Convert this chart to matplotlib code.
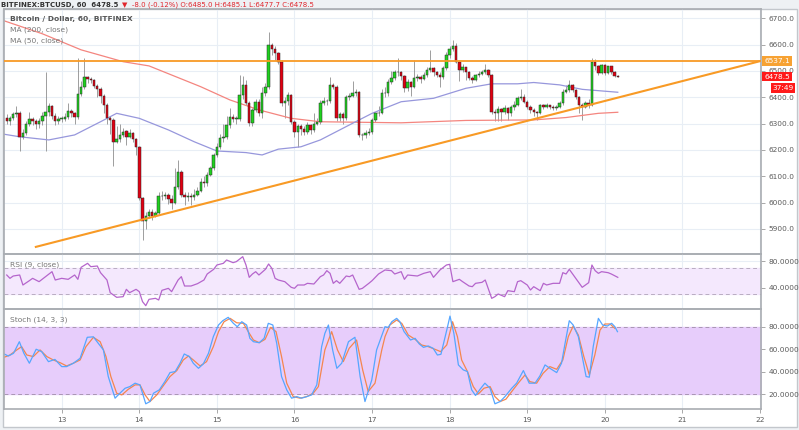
import numpy as np
import matplotlib
matplotlib.use('Agg')
import matplotlib.pyplot as plt
from matplotlib.patches import Rectangle

# hourly BTC/USD candles, hour 0 = day 13 00:00, first candle at hour -17
first_open = 6320
closes = [
    6310, 6320, 6335, 6340, 6250, 6265, 6300, 6318, 6310, 6300,
    6310, 6330, 6345, 6365, 6330, 6310, 6318, 6318, 6325, 6346,
    6340, 6325, 6412, 6440, 6475, 6468, 6465, 6442, 6432, 6405,
    6370, 6322, 6312, 6232, 6240, 6256, 6270, 6250, 6266, 6240,
    6212, 6017, 5930, 5950, 5965, 5950, 5960, 6025, 6025, 6030,
    6012, 6000, 6060, 6118, 6030, 6022, 6025, 6020, 6030, 6045,
    6080, 6075, 6105, 6130, 6180, 6212, 6244, 6250, 6295, 6326,
    6318, 6318, 6409, 6447, 6377, 6301, 6352, 6383, 6339, 6415,
    6440, 6600, 6585, 6567, 6535, 6377, 6385, 6409, 6307, 6269,
    6290, 6280, 6270, 6295, 6275, 6300, 6305, 6377, 6385, 6385,
    6447, 6440, 6320, 6335, 6320, 6402, 6405, 6415, 6420, 6257,
    6255, 6265, 6270, 6314, 6339, 6341, 6415, 6415, 6459, 6472,
    6497, 6495, 6480, 6434, 6459, 6440, 6472, 6475, 6470, 6485,
    6504, 6510, 6497, 6485, 6478, 6510, 6561, 6583, 6596, 6535,
    6504, 6515, 6497, 6472, 6465, 6484, 6490, 6497, 6504,
    6484, 6343, 6340, 6356, 6343, 6360, 6340, 6364, 6370, 6396,
    6402, 6383, 6364, 6352, 6343, 6340, 6370, 6364, 6370, 6364, 6360,
    6364, 6377, 6421, 6427, 6447, 6427, 6402, 6371, 6364, 6377,
    6371, 6533, 6517, 6491, 6523, 6491, 6517, 6495, 6482, 6478.5,
]
highs = [
    6335, 6330, 6345, 6365, 6348, 6280, 6310, 6345, 6325, 6318,
    6322, 6345, 6497, 6378, 6372, 6340, 6330, 6330, 6340, 6378,
    6355, 6345, 6548, 6462, 6548, 6482, 6478, 6470, 6450, 6440,
    6412, 6380, 6330, 6320, 6290, 6300, 6285, 6275, 6280, 6270,
    6245, 6215, 6020, 5965, 5975, 5975, 5970, 6040, 6045, 6040,
    6035, 6030, 6130, 6160, 6125, 6040, 6040, 6035, 6050, 6060,
    6095, 6100, 6115, 6140, 6190, 6225, 6260, 6300, 6330, 6360,
    6335, 6330, 6485, 6480, 6465, 6385, 6360, 6395, 6395, 6440,
    6455, 6649, 6605, 6595, 6570, 6540, 6400, 6420, 6412, 6315,
    6300, 6298, 6290, 6305, 6300, 6340, 6320, 6390, 6400, 6395,
    6478, 6455, 6445, 6345, 6345, 6410, 6415, 6460, 6430, 6425,
    6265, 6275, 6285, 6320, 6345, 6365, 6430, 6440, 6470, 6500,
    6505, 6550, 6500, 6485, 6470, 6462, 6540, 6490, 6485, 6495,
    6515, 6580, 6515, 6500, 6495, 6520, 6570, 6595, 6618, 6605,
    6540, 6525, 6512, 6500, 6480, 6490, 6500, 6505, 6525,
    6508, 6490, 6355, 6365, 6360, 6370, 6362, 6372, 6385, 6405,
    6430, 6412, 6388, 6370, 6358, 6348, 6375, 6375, 6380, 6372, 6370,
    6372, 6385, 6430, 6445, 6465, 6450, 6430, 6405, 6378, 6385,
    6392, 6548, 6545, 6522, 6528, 6525, 6520, 6520, 6498, 6486,
]
lows = [
    6300, 6295, 6312, 6325, 6195, 6240, 6255, 6290, 6295, 6280,
    6285, 6295, 6195, 6330, 6318, 6296, 6300, 6305, 6310, 6318,
    6325, 6300, 6318, 6405, 6430, 6455, 6455, 6435, 6400, 6380,
    6340, 6300, 6260, 6140, 6225, 6232, 6250, 6220, 6245, 6230,
    6180, 6010, 5858, 5900, 5940, 5935, 5945, 5955, 6010, 6015,
    5995, 5975, 5995, 6050, 6020, 5990, 6005, 5990, 6010, 6025,
    6040, 6060, 6065, 6100, 6125, 6175, 6205, 6230, 6240, 6285,
    6305, 6300, 6310, 6395, 6370, 6290, 6290, 6345, 6330, 6320,
    6405, 6430, 6560, 6540, 6525, 6365, 6320, 6370, 6300, 6250,
    6210, 6255, 6255, 6260, 6262, 6270, 6295, 6300, 6370, 6372,
    6380, 6430, 6310, 6310, 6300, 6315, 6390, 6400, 6405, 6250,
    6238, 6245, 6255, 6262, 6305, 6330, 6335, 6400, 6405, 6450,
    6465, 6480, 6465, 6420, 6425, 6405, 6435, 6462, 6455, 6465,
    6475, 6495, 6480, 6475, 6440, 6470, 6505, 6550, 6575, 6530,
    6460, 6495, 6465, 6465, 6455, 6460, 6478, 6485, 6490,
    6478, 6335, 6310, 6310, 6310, 6335, 6315, 6330, 6350, 6365,
    6390, 6378, 6355, 6340, 6330, 6314, 6335, 6355, 6360, 6355, 6350,
    6352, 6358, 6370, 6415, 6420, 6420, 6395, 6340, 6314, 6358,
    6360, 6365, 6505, 6485, 6488, 6485, 6488, 6490, 6478, 6475,
]

ma200_h = [-18, -6, 6, 19, 27, 43, 52, 61, 71, 80, 105, 125, 146, 156, 166, 172]
ma200 = [6691, 6641, 6580, 6535, 6519, 6440, 6390, 6352, 6320, 6307, 6303, 6312, 6314, 6323, 6339, 6343]
ma50_h = [-18, -13, -4, 4, 12, 17, 24, 33, 41, 48, 57, 62, 67, 74, 80, 89, 96, 105, 115, 125, 133, 141, 146, 154, 161, 172]
ma50 = [6260, 6250, 6238, 6257, 6307, 6339, 6320, 6276, 6231, 6196, 6190, 6181, 6203, 6212, 6238, 6295,
        6339, 6383, 6396, 6434, 6451, 6451, 6456, 6447, 6430, 6419]

# horizontal resistance and rising trendline
resist = 6537.1
trend_h = [-8, 216]
trend_p = [5832, 6537]

rsi_h = [-17, -16, -15, -13, -12, -10, -9, -7, -5, -3, -2, 0, 2, 4, 5, 6, 8, 9, 11, 12,
         14, 15, 17, 19, 20, 21, 23, 24, 25, 26, 27, 29, 30, 31, 33, 34, 36, 37, 38, 40,
         42, 44, 45, 47, 48, 50, 51, 53, 54, 56, 57, 58, 59, 60, 61, 63, 64, 65, 66, 67,
         69, 71, 72, 73, 75, 76, 78, 80, 81, 82, 83, 84, 85, 86, 88, 89, 90, 92, 93, 95,
         96, 98, 100, 102, 103, 105, 106, 107, 110, 112, 114, 115, 117, 119, 120,
         121, 123, 124, 126, 127, 128, 130, 131, 133, 134, 135, 137, 138, 140, 141, 142,
         144, 145, 146, 148, 149, 150, 152, 154, 155, 156, 157, 159, 160, 161, 163, 164,
         165, 166, 167, 169, 170, 172]
rsi = [59, 54, 57.5, 59, 44, 50.5, 54, 49, 56.5, 64, 51.5, 54, 52.5, 59, 52.5, 70.5, 76.5, 71.5, 72.5, 62.5,
       51.5, 32.5, 25.5, 26.5, 37.5, 32.5, 37.5, 34, 19, 13, 22.5, 24, 21.5, 36, 39, 34, 51.5, 56.5, 42.5, 42.5,
       46, 51.5, 60.5, 67.5, 74, 76.5, 81.5, 77.5, 79, 86.5, 74, 55.5, 60.5, 64, 59, 67.5, 75.5, 69, 54, 51.5,
       49, 40.5, 39, 44, 44, 46.5, 45.5, 56.5, 59, 65.5, 61.5, 46.5, 50.5, 46.5, 57.5, 56.5, 59, 37.5, 39, 46.5,
       50.5, 60.5, 66.5, 65.5, 60.5, 64, 52.5, 59, 57.5, 61.5, 64, 55.5, 66.5, 74, 75,
       49, 52.5, 49, 42.5, 41.5, 46.5, 48, 51.5, 24, 26.5, 30.5, 26.5, 35.5, 34, 49, 50.5,
       44, 36.5, 41.5, 35.5, 46.5, 44, 46.5, 46.5, 62.5, 60.5, 67.5, 54, 47.5, 40.5, 47.5, 74,
       65.5, 61.5, 64, 62.5, 60.5, 55.5]

stk_h = [-17.8, -16.5, -14.9, -13.1, -11.7, -10.0, -7.9, -6.2, -4.1, -2.1, 0.0, 1.5, 3.6, 5.7, 7.9, 9.8,
         11.3, 12.9, 14.4, 16.5, 18.0, 19.6, 21.1, 22.7, 24.2, 26.0, 27.3, 28.4, 30.2, 31.9, 33.5, 35.1,
         36.6, 37.9, 39.5, 40.7, 42.3, 43.8, 45.4, 46.9, 48.5, 49.8, 51.5, 53.1, 54.3, 55.7, 57.2, 58.2,
         59.3, 61.1, 62.6, 63.9, 65.3, 66.5, 68.0, 69.6, 71.1, 72.7, 74.2, 75.8, 77.3, 78.9, 80.4, 81.4,
         82.5, 83.8, 85.1, 86.6, 88.7, 90.7, 92.3, 93.8, 95.9, 97.4, 100.0, 101.0, 102.1, 103.6, 104.6,
         105.9, 107.9, 109.3, 110.6, 111.9, 113.4, 114.9, 116.2, 117.3, 119.1, 120.1, 121.3, 122.7, 124.2,
         125.5, 126.8, 128.0, 129.4, 130.9, 132.5, 134.0, 135.6, 137.1, 139.2, 140.7, 142.8, 144.6, 146.4,
         147.9, 149.5, 151.0, 153.1, 154.6, 155.7, 157.0, 158.2, 159.8, 161.1, 162.2, 163.2, 164.4, 166.0,
         167.3, 168.8, 170.1, 171.1, 171.9]
stk_k = [55.8, 54.0, 56.4, 66.7, 56.4, 47.6, 60.0, 57.9, 49.0, 51.0, 44.6, 44.6, 47.6, 52.0, 70.6, 71.0,
         65.3, 59.4, 35.8, 16.6, 21.0, 25.4, 26.9, 29.9, 28.4, 11.6, 13.6, 21.0, 24.0, 31.3, 39.3, 40.2,
         47.6, 55.8, 53.5, 47.6, 43.1, 47.0, 56.4, 71.2, 81.5, 85.3, 88.3, 83.0, 80.0, 84.4, 81.5, 69.7,
         66.7, 65.8, 69.7, 83.0, 81.5, 65.3, 35.8, 24.0, 16.6, 18.0, 16.6, 18.0, 19.5, 28.4, 62.3, 74.1,
         81.5, 59.4, 43.1, 47.6, 66.7, 70.6, 35.8, 13.6, 32.7, 59.4, 80.0, 79.4, 84.4, 87.4, 84.4,
         75.6, 68.2, 69.7, 64.7, 61.7, 62.9, 60.8, 54.9, 55.5, 77.0, 89.4, 74.1, 46.1, 41.7,
         40.2, 24.0, 19.0, 24.5, 29.9, 25.4, 11.6, 13.6, 18.0, 25.4, 29.9, 41.1, 29.9, 29.9,
         36.3, 46.1, 43.1, 39.3, 47.6, 65.3, 85.3, 81.5, 71.2, 52.0, 35.8, 35.2, 62.3, 87.4,
         81.5, 80.6, 83.0, 80.0, 75.6]
std_h = [-17.8, -16.0, -13.9, -12.4, -10.8, -8.8, -6.7, -4.6, -2.6, -0.5, 1.5, 3.6, 5.7, 7.5, 9.8, 11.9,
         13.7, 15.2, 17.0, 18.6, 20.6, 22.7, 24.2, 25.8, 27.3, 29.4, 31.4, 33.5, 35.6, 37.6, 39.2, 40.7,
         42.8, 44.8, 46.9, 48.5, 50.2, 52.1, 54.1, 56.2, 57.7, 59.3, 61.1, 62.9, 64.6, 66.3, 68.0, 69.6,
         71.6, 73.7, 75.8, 77.8, 79.4, 81.4, 83.5, 85.3, 87.1, 88.9, 91.2, 93.1, 94.8, 96.9, 99.0,
         100.0, 101.5, 103.6, 105.2, 107.2, 109.3, 111.3, 113.4, 115.5, 117.2, 119.1, 120.9, 122.4,
         123.7, 125.5, 127.3, 128.9, 130.6, 132.5, 134.0, 135.6, 137.4, 139.2, 141.2, 143.3, 144.8,
         146.9, 148.9, 151.0, 153.1, 155.0, 156.7, 158.2, 159.8, 161.5, 163.2, 164.9, 166.5, 168.0,
         169.6, 171.1]
std_d = [52.9, 54.9, 59.4, 62.3, 54.9, 53.5, 59.4, 53.5, 50.5, 48.1, 45.2, 47.6, 50.5, 62.3, 70.6, 66.7,
         53.5, 35.8, 21.0, 19.5, 24.5, 28.4, 28.4, 19.5, 13.6, 19.5, 27.5, 35.8, 41.1, 50.5, 54.0, 50.5,
         45.2, 49.0, 62.3, 75.6, 84.4, 87.4, 83.5, 83.0, 75.6, 68.2, 65.8, 68.8, 79.4, 75.6, 53.5, 29.9,
         18.0, 16.6, 18.0, 21.0, 26.9, 59.4, 75.6, 59.4, 49.0, 60.8, 68.2, 41.6, 22.5, 29.9, 59.4,
         71.2, 81.5, 85.9, 82.9, 72.6, 68.8, 63.8, 62.3, 59.9, 57.9, 63.8, 84.4, 71.2,
         50.5, 40.2, 26.9, 20.4, 25.4, 26.9, 18.0, 13.6, 15.7, 22.5, 29.9, 37.2, 31.3,
         29.9, 38.7, 44.6, 42.2, 50.5, 71.2, 80.6, 72.6, 53.5, 37.2, 54.9, 77.0, 82.4,
         82.4, 78.5]

day_ticks = [0, 24, 48, 72, 96, 120, 144, 168, 192, 216]
day_labels = ['13', '14', '15', '16', '17', '18', '19', '20', '21', '22']


def fx(px):
    return px / 799.0


def fy(py):
    return 1 - py / 430.0


fig = plt.figure(figsize=(7.99, 4.30), dpi=100, facecolor='#eef1f4')
fig.patches.append(Rectangle((fx(3), fy(427)), fx(797) - fx(3), fy(9) - fy(427), transform=fig.transFigure,
                             facecolor='white', edgecolor='#c3c7cc', lw=1, zorder=-1))

W = fx(761) - fx(4)
ax = fig.add_axes([fx(4), fy(254), W, fy(9) - fy(254)])
ax_rsi = fig.add_axes([fx(4), fy(309), W, fy(254) - fy(309)], sharex=ax)
ax_st = fig.add_axes([fx(4), fy(409), W, fy(309) - fy(409)], sharex=ax)

grey_txt = '#5a5a5a'
grid_c = '#e8eef5'
for a in (ax, ax_rsi, ax_st):
    a.set_facecolor('none')
    for s in a.spines.values():
        s.set_color('#a9adb2')
        s.set_linewidth(1.2)
    a.yaxis.tick_right()
    a.tick_params(axis='y', direction='out', length=3, width=0.6, colors='#9a9a9a', labelcolor=grey_txt,
                  labelsize=5.3, pad=2.5)
    a.set_xticks(day_ticks)
    for t in day_ticks:
        a.axvline(t, color=grid_c, lw=0.8, zorder=0)

# candles
hours = np.arange(len(closes)) - 17
c = np.array(closes)
o = np.array([first_open] + closes[:-1])
up = c >= o
ax.vlines(hours, lows, highs, color='#8e8e8e', lw=0.6, zorder=2)
ax.bar(hours, np.maximum(np.abs(c - o), 1.5), bottom=np.minimum(o, c), width=0.75,
       color=np.where(up, '#1fd11f', '#e00012'), edgecolor='#2a2a2a', linewidth=0.35, zorder=3)

ax.plot(ma200_h, ma200, color='#f4857f', lw=0.9, zorder=2.5)
ax.plot(ma50_h, ma50, color='#9797dc', lw=0.9, zorder=2.5)
ax.axhline(resist, color='#f89a25', lw=1.3, zorder=4)
ax.plot(trend_h, trend_p, color='#f89a25', lw=1.5, zorder=4)

ax.set_xlim(-17.85, 216.3)
ax.set_ylim(5805, 6735)
price_ticks = [5900, 6000, 6100, 6200, 6300, 6400, 6500, 6600, 6700]
ax.set_yticks(price_ticks)
ax.set_yticklabels(['%.1f' % p for p in price_ticks])
for p in price_ticks:
    ax.axhline(p, color=grid_c, lw=0.8, zorder=0)
ax.tick_params(axis='x', length=0, labelbottom=False)

tr = ax.get_yaxis_transform()
ax.text(1.004, resist, '6537.1', transform=tr, ha='left', va='center', fontsize=5.3, color='white',
        bbox=dict(boxstyle='square,pad=0.25', fc='#f7a233', ec='none'), clip_on=False, zorder=10)
ax.text(1.004, 6478.5, '6478.5', transform=tr, ha='left', va='center', fontsize=5.3, color='white',
        bbox=dict(boxstyle='square,pad=0.25', fc='#ff1a1a', ec='none'), clip_on=False, zorder=10)
ax.text(1.015, 6436, '37:49', transform=tr, ha='left', va='center', fontsize=5.3, color='white',
        bbox=dict(boxstyle='square,pad=0.25', fc='#ff1a1a', ec='none'), clip_on=False, zorder=10)

# RSI panel
ax_rsi.fill_between([-20, 220], 30, 70, color='#f4e8fd', zorder=0)
ax_rsi.axhline(70, color='#b9adc2', lw=0.7, ls=(0, (4, 3)))
ax_rsi.axhline(30, color='#b9adc2', lw=0.7, ls=(0, (4, 3)))
ax_rsi.plot(rsi_h, rsi, color='#b565cc', lw=0.9)
ax_rsi.set_ylim(8, 90.5)
ax_rsi.set_yticks([40, 80])
ax_rsi.set_yticklabels(['40.0000', '80.0000'])
ax_rsi.axhline(80, color=grid_c, lw=0.8, zorder=0)
ax_rsi.tick_params(axis='x', length=0, labelbottom=False)

# Stoch panel
ax_st.fill_between([-20, 220], 20, 80, color='#e7cdfb', zorder=0)
ax_st.axhline(80, color='#a996b3', lw=0.7, ls=(0, (4, 3)))
ax_st.axhline(20, color='#a996b3', lw=0.7, ls=(0, (4, 3)))
ax_st.plot(std_h, std_d, color='#f5864e', lw=0.9)
ax_st.plot(stk_h, stk_k, color='#55a6ff', lw=0.9)
ax_st.set_ylim(7, 95.7)
ax_st.set_yticks([20, 40, 60, 80])
ax_st.set_yticklabels(['20.0000', '40.0000', '60.0000', '80.0000'])
ax_st.set_xticks(day_ticks)
ax_st.set_xticklabels(day_labels)
ax_st.tick_params(axis='x', direction='out', length=3, width=0.6, colors='#9a9a9a', labelcolor=grey_txt,
                  labelsize=5.3, pad=3)
ax_st.set_xlim(-17.85, 216.3)

# labels
fig.text(fx(10), fy(18.5), 'Bitcoin / Dollar, 60, BITFINEX', fontsize=5.4, fontweight='bold', color='#555555',
         va='center', ha='left')
fig.text(fx(10), fy(30), 'MA (200, close)', fontsize=5.4, color='#777777', va='center', ha='left')
fig.text(fx(10), fy(41), 'MA (50, close)', fontsize=5.4, color='#777777', va='center', ha='left')
fig.text(fx(10), fy(265), 'RSI (9, close)', fontsize=5.4, color='#777777', va='center', ha='left')
fig.text(fx(10), fy(320), 'Stoch (14, 3, 3)', fontsize=5.4, color='#777777', va='center', ha='left')

# header line above the chart frame
head = fig.text(fx(1), fy(4.5), 'BITFINEX:BTCUSD, 60  6478.5', fontsize=5, fontweight='bold', color='#333333',
                va='center', ha='left')
renderer = fig.canvas.get_renderer()
bb = head.get_window_extent(renderer)
fig.text((bb.x1 + 4) / 799.0, fy(4.5), '\u25bc  -8.0 (-0.12%) O:6485.0 H:6485.1 L:6477.7 C:6478.5', fontsize=5,
         color='#e0262d', va='center', ha='left')

fig.savefig('out.png', dpi=100, facecolor=fig.get_facecolor())
